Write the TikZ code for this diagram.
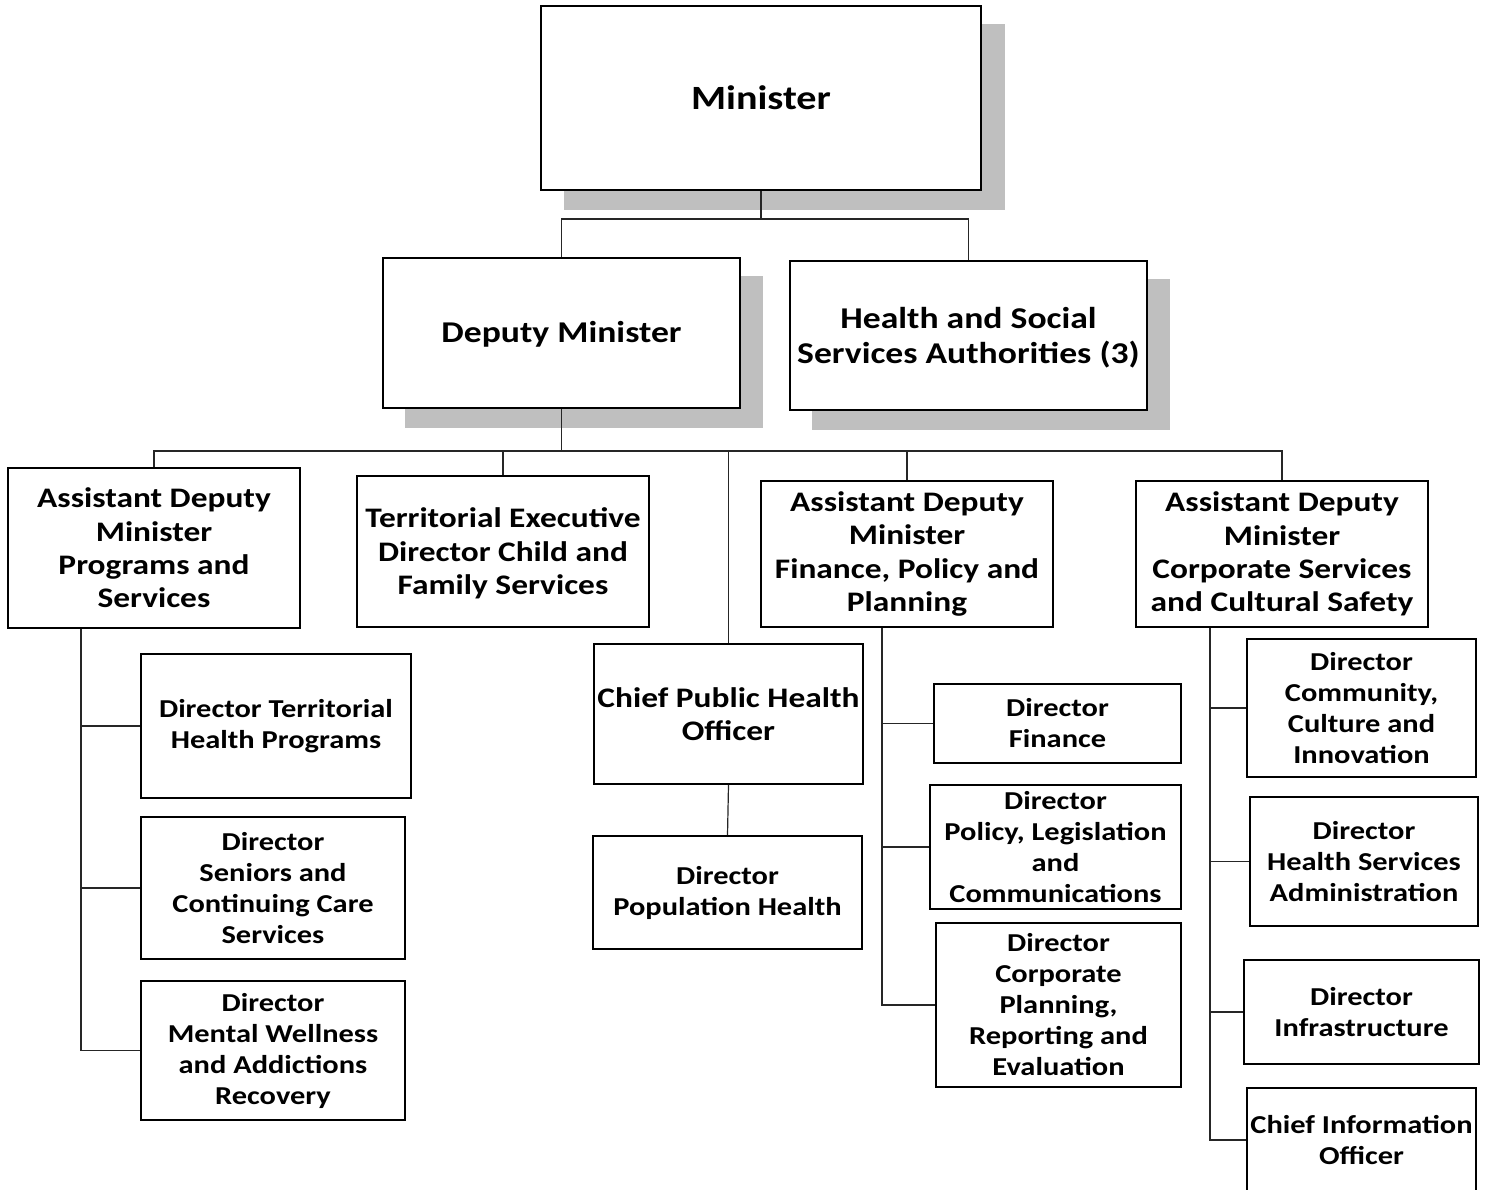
\documentclass[tikz,border=0pt]{standalone}
\usepackage{fontspec}
\newfontfamily\orgfont{Carlito}[FakeStretch=1.18]
\newcommand{\lowered}[2]{\raisebox{-#1}[\height][\depth]{\begin{tabular}{@{}c@{}}#2\end{tabular}}}
\begin{document}
\begin{tikzpicture}[x=1pt,y=-1pt,
  box/.style={draw=black, line width=1.6pt, fill=white, align=center, inner sep=0pt, text=black},
  topfont/.style={font={\orgfont\bfseries\fontsize{30.2}{35.5}\selectfont}},
  secfont/.style={font={\orgfont\bfseries\fontsize{28.3}{33.3}\selectfont}},
  dirfont/.style={font={\orgfont\bfseries\fontsize{25.8}{31}\selectfont}},
  shadowbox/.style={fill=black!25, draw=none},
  link/.style={draw=black!85, line width=1.2pt}]
\useasboundingbox (0,0) rectangle (1491,1190);
\clip (0,0) rectangle (1491,1190);
\fill[white] (0,0) rectangle (1491,1190);

% shadows
\fill[shadowbox] (564,24) rectangle (1005,210);
\fill[shadowbox] (405,276) rectangle (763,428);
\fill[shadowbox] (812,279) rectangle (1170,430);

% top level
\node[box, font={\orgfont\bfseries\fontsize{34}{39}\selectfont}, minimum width=440, minimum height=184] (min) at (761,98) {Minister};
\node[box, topfont, minimum width=357, minimum height=150] (dep) at (561.5,333) {\lowered{2pt}{Deputy Minister}};
\node[box, topfont, minimum width=357, minimum height=149] (hssa) at (968.5,335.5) {\lowered{3.5pt}{Health and Social\\Services Authorities (3)}};

% second level
\node[box, secfont, minimum width=292, minimum height=160] (adm1) at (154,548) {Assistant Deputy\\Minister\\Programs and\\Services};
\node[box, secfont, minimum width=292, minimum height=151] (ted) at (503,551.5) {\lowered{3pt}{Territorial Executive\\Director Child and\\Family Services}};
\node[box, secfont, minimum width=269, minimum height=140] (cpho) at (728.5,714) {Chief Public Health\\Officer};
\node[box, secfont, minimum width=292, minimum height=146] (adm2) at (907,554) {Assistant Deputy\\Minister\\Finance, Policy and\\Planning};
\node[box, secfont, minimum width=292, minimum height=146] (adm3) at (1282,554) {Assistant Deputy\\Minister\\Corporate Services\\and Cultural Safety};

% directors
\node[box, dirfont, minimum width=270, minimum height=144] (dth) at (276,726) {Director Territorial\\Health Programs};
\node[box, dirfont, minimum width=264, minimum height=142] (dsc) at (273,888) {Director\\Seniors and\\Continuing Care\\Services};
\node[box, dirfont, minimum width=264, minimum height=139] (dmw) at (273,1050.5) {Director\\Mental Wellness\\and Addictions\\Recovery};

\node[box, dirfont, minimum width=269, minimum height=113] (dph) at (727.5,892.5) {Director\\Population Health};

\node[box, dirfont, minimum width=247, minimum height=79] (dfin) at (1057.5,723.5) {Director\\Finance};
\node[box, dirfont, minimum width=251, minimum height=124] (dpol) at (1055.5,847) {Director\\Policy, Legislation\\and\\Communications};
\node[box, dirfont, minimum width=245, minimum height=164] (dcp) at (1058.5,1005) {Director\\Corporate\\Planning,\\Reporting and\\Evaluation};

\node[box, dirfont, minimum width=229, minimum height=138] (dcom) at (1361.5,708) {Director\\Community,\\Culture and\\Innovation};
\node[box, dirfont, minimum width=228, minimum height=129] (dhsa) at (1364,861.5) {Director\\Health Services\\Administration};
\node[box, dirfont, minimum width=235, minimum height=104] (dinf) at (1361.5,1012) {Director\\Infrastructure};
\node[box, dirfont, minimum width=229, minimum height=104] (cio) at (1361.5,1140) {Chief Information\\Officer};

% connector helpers
\coordinate (bus1) at (0,219);
\coordinate (bus2) at (0,451);
\coordinate (sp1) at (81,0);
\coordinate (sp2) at (882,0);
\coordinate (sp3) at (1210,0);

\draw[link] (min.south) -- (min.south |- bus1);
\draw[link] (dep.north) |- (hssa.north |- bus1) -- (hssa.north);
\draw[link] (dep.south) -- (dep.south |- bus2);
\draw[link] (adm1.north) |- (adm3.north |- bus2) -- (adm3.north);
\draw[link] (ted.north) -- (ted.north |- bus2);
\draw[link] (cpho.north) -- (cpho.north |- bus2);
\draw[link] (adm2.north) -- (adm2.north |- bus2);
\draw[link] (cpho.south) -- (dph.north);

\draw[link] (sp1 |- adm1.south) |- (dmw.west);
\draw[link] (sp1 |- dth.west) -- (dth.west);
\draw[link] (sp1 |- dsc.west) -- (dsc.west);

\draw[link] (sp2 |- adm2.south) |- (dcp.west);
\draw[link] (sp2 |- dfin.west) -- (dfin.west);
\draw[link] (sp2 |- dpol.west) -- (dpol.west);

\draw[link] (sp3 |- adm3.south) |- (cio.west);
\draw[link] (sp3 |- dcom.west) -- (dcom.west);
\draw[link] (sp3 |- dhsa.west) -- (dhsa.west);
\draw[link] (sp3 |- dinf.west) -- (dinf.west);
\end{tikzpicture}
\end{document}
